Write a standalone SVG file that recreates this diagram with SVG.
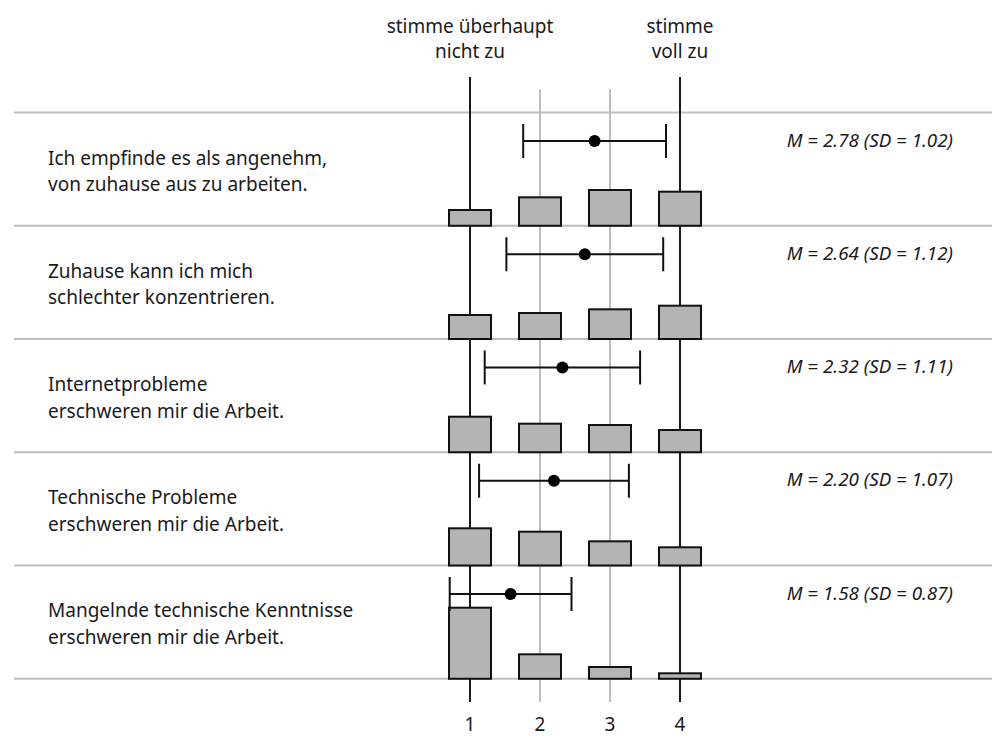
<svg xmlns="http://www.w3.org/2000/svg" width="992" height="736" viewBox="0 0 992 736">
<style>
text{font-family:"Noto Sans","Liberation Sans",sans-serif;fill:#1a1a1a}
.lbl{font-size:19px}
.hdr{font-size:19px;text-anchor:middle}
.stat{font-size:18.8px;font-style:italic;text-anchor:end}
.sep{stroke:#bdbdbd;stroke-width:2}
.grid{stroke:#bdbdbd;stroke-width:2}
.axis{stroke:#1a1a1a;stroke-width:2}
.bar{fill:#b3b5b5;stroke:#111;stroke-width:2}
.err{stroke:#111;stroke-width:2;fill:none}
.dot{fill:#000}
</style>
<rect width="992" height="736" fill="#fff"/>
<g id="header">
<text class="hdr" x="470" y="33">stimme überhaupt</text>
<text class="hdr" x="470" y="58">nicht zu</text>
<text class="hdr" x="680" y="33">stimme</text>
<text class="hdr" x="680" y="58">voll zu</text>
</g>
<g id="separators">
<line class="sep" x1="14" y1="112.5" x2="992" y2="112.5"/>
<line class="sep" x1="14" y1="225.75" x2="992" y2="225.75"/>
<line class="sep" x1="14" y1="339" x2="992" y2="339"/>
<line class="sep" x1="14" y1="452.25" x2="992" y2="452.25"/>
<line class="sep" x1="14" y1="565.5" x2="992" y2="565.5"/>
<line class="sep" x1="14" y1="678.75" x2="992" y2="678.75"/>
</g>
<g id="axes">
<line class="grid" x1="540" y1="89" x2="540" y2="702"/>
<line class="grid" x1="610" y1="89" x2="610" y2="702"/>
<line class="axis" x1="470" y1="77" x2="470" y2="702"/>
<line class="axis" x1="680" y1="77" x2="680" y2="702"/>
</g>
<g id="row1">
<text class="lbl" x="48" y="164.5">Ich empfinde es als angenehm,</text>
<text class="lbl" x="48" y="191">von zuhause aus zu arbeiten.</text>
<rect class="bar" x="449" y="210" width="42" height="15.75"/>
<rect class="bar" x="519" y="197.3" width="42" height="28.45"/>
<rect class="bar" x="589" y="190" width="42" height="35.75"/>
<rect class="bar" x="659" y="191.7" width="42" height="34.05"/>
<path class="err" d="M523.2 141H666M523.2 124V158M666 124V158"/>
<circle class="dot" cx="594.6" cy="141" r="6"/>
<text class="stat" x="953" y="146.5">M = 2.78 (SD = 1.02)</text>
</g>
<g id="row2">
<text class="lbl" x="48" y="277.75">Zuhause kann ich mich</text>
<text class="lbl" x="48" y="304.25">schlechter konzentrieren.</text>
<rect class="bar" x="449" y="315" width="42" height="24"/>
<rect class="bar" x="519" y="313" width="42" height="26"/>
<rect class="bar" x="589" y="309.3" width="42" height="29.7"/>
<rect class="bar" x="659" y="305.7" width="42" height="33.3"/>
<path class="err" d="M506.4 254.25H663.2M506.4 237.25V271.25M663.2 237.25V271.25"/>
<circle class="dot" cx="584.8" cy="254.25" r="6"/>
<text class="stat" x="953" y="259.75">M = 2.64 (SD = 1.12)</text>
</g>
<g id="row3">
<text class="lbl" x="48" y="391">Internetprobleme</text>
<text class="lbl" x="48" y="417.5">erschweren mir die Arbeit.</text>
<rect class="bar" x="449" y="416.7" width="42" height="35.55"/>
<rect class="bar" x="519" y="423.7" width="42" height="28.55"/>
<rect class="bar" x="589" y="425" width="42" height="27.25"/>
<rect class="bar" x="659" y="430" width="42" height="22.25"/>
<path class="err" d="M484.7 367.5H640.1M484.7 350.5V384.5M640.1 350.5V384.5"/>
<circle class="dot" cx="562.4" cy="367.5" r="6"/>
<text class="stat" x="953" y="373">M = 2.32 (SD = 1.11)</text>
</g>
<g id="row4">
<text class="lbl" x="48" y="504">Technische Probleme</text>
<text class="lbl" x="48" y="530.5">erschweren mir die Arbeit.</text>
<rect class="bar" x="449" y="528.3" width="42" height="37.2"/>
<rect class="bar" x="519" y="531.7" width="42" height="33.8"/>
<rect class="bar" x="589" y="541.3" width="42" height="24.2"/>
<rect class="bar" x="659" y="547.3" width="42" height="18.2"/>
<path class="err" d="M479.1 480.75H628.9M479.1 463.75V497.75M628.9 463.75V497.75"/>
<circle class="dot" cx="554" cy="480.75" r="6"/>
<text class="stat" x="953" y="486.25">M = 2.20 (SD = 1.07)</text>
</g>
<g id="row5">
<text class="lbl" x="48" y="617">Mangelnde technische Kenntnisse</text>
<text class="lbl" x="48" y="643.5">erschweren mir die Arbeit.</text>
<rect class="bar" x="449" y="607.7" width="42" height="71.05"/>
<rect class="bar" x="519" y="654.3" width="42" height="24.45"/>
<rect class="bar" x="589" y="667" width="42" height="11.75"/>
<rect class="bar" x="659" y="673.3" width="42" height="5.45"/>
<path class="err" d="M449.7 594H571.5M449.7 577V611M571.5 577V611"/>
<circle class="dot" cx="510.6" cy="594" r="6"/>
<text class="stat" x="953" y="599.5">M = 1.58 (SD = 0.87)</text>
</g>
<g id="ticks">
<text class="hdr" x="470" y="731">1</text>
<text class="hdr" x="540" y="731">2</text>
<text class="hdr" x="610" y="731">3</text>
<text class="hdr" x="680" y="731">4</text>
</g>
</svg>
